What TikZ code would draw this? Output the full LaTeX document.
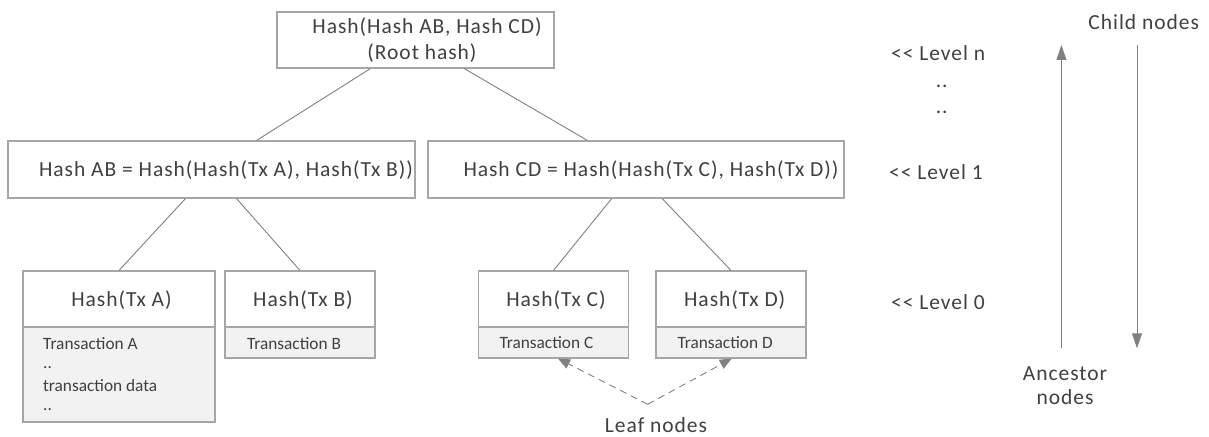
\documentclass[tikz,border=0pt]{standalone}
\usepackage{fontspec}
\setmainfont{Carlito}
\newfontfamily\bigf{Carlito}[LetterSpace=4.5]
\newfontfamily\smallf{Carlito}
\usetikzlibrary{arrows.meta,calc}
\definecolor{txt}{HTML}{404040}
\definecolor{bord}{HTML}{A6A6A6}
\definecolor{ln}{HTML}{808080}
\definecolor{gfill}{HTML}{F2F2F2}
\begin{document}
\begin{tikzpicture}[x=1pt,y=-1pt,
  box/.style={draw=bord,line width=1.1pt,fill=white,rectangle,inner sep=0pt},
  gbox/.style={box,fill=gfill},
  big/.style={text=txt,font=\bigf\fontsize{21.5}{25}\selectfont,inner sep=0pt},
  small/.style={text=txt,font=\smallf\fontsize{17.3}{20}\selectfont,inner sep=0pt,anchor=west},
  conn/.style={draw=ln,line width=0.9pt},
  dconn/.style={draw=ln,line width=0.9pt,dash pattern=on 7pt off 5pt,-{Triangle[length=12pt,width=10pt]}},
  varrow/.style={draw=ln,line width=1pt,-{Triangle[length=15pt,width=10pt]}}
]
\useasboundingbox (0,0) rectangle (1209,436);
% level n
\node[box,minimum width=277pt,minimum height=56pt] (root) at (415.5,40) {};
\node[big] (roott1) at (427,26.7) {Hash(Hash AB, Hash CD)};
\node[big] (roott2) at (422,53.3) {(Root hash)};
% level 1
\node[box,minimum width=407pt,minimum height=57pt] (ab) at (211.5,169.5) {};
\node[big] (abt) at (226,170) {Hash AB = Hash(Hash(Tx A), Hash(Tx B))};
\node[box,minimum width=416pt,minimum height=57pt] (cd) at (636,169.5) {};
\node[big] (cdt) at (651,170) {Hash CD = Hash(Hash(Tx C), Hash(Tx D))};
% level 0
\node[box,minimum width=192pt,minimum height=56pt] (ha) at (119,299) {};
\node[gbox,minimum width=192pt,minimum height=95pt] (ta) at (119,374.5) {};
\node[big] (hat) at (121.5,300) {Hash(Tx A)};
\node[small] (ta1) at (43,343.3) {Transaction A};
\node[small] (ta2) at (43,367.5) {..};
\node[small] (ta3) at (43,386) {transaction data};
\node[small] (ta4) at (43,410) {..};
\node[box,minimum width=150pt,minimum height=56pt] (hb) at (300,299) {};
\node[gbox,minimum width=150pt,minimum height=31pt] (tb) at (300,342.5) {};
\node[big] (hbt) at (303,300) {Hash(Tx B)};
\node[small] (tbt) at (246.8,343.3) {Transaction B};
\node[box,minimum width=150pt,minimum height=56pt] (hc) at (553.5,299) {};
\node[gbox,minimum width=150pt,minimum height=31pt] (tc) at (553.5,342.5) {};
\node[big] (hct) at (556,300) {Hash(Tx C)};
\node[small] (tct) at (499.3,342.7) {Transaction C};
\node[box,minimum width=150pt,minimum height=56pt] (hd) at (731,299) {};
\node[gbox,minimum width=150pt,minimum height=31pt] (td) at (731,342.5) {};
\node[big] (hdt) at (734.7,300) {Hash(Tx D)};
\node[small] (tdt) at (677.3,342.7) {Transaction D};
% connectors
\draw[conn] ([xshift=-45pt]root.south) -- ([xshift=45pt]ab.north);
\draw[conn] ([xshift=48.7pt]root.south) -- ([xshift=-48.6pt]cd.north);
\draw[conn] ([xshift=-26pt]ab.south) -- (ha.north);
\draw[conn] ([xshift=25pt]ab.south) -- (hb.north);
\draw[conn] ([xshift=-24.3pt]cd.south) -- (hc.north);
\draw[conn] ([xshift=26.1pt]cd.south) -- (hd.north);
% leaf nodes
\node[big] (leaf) at (656,425) {Leaf nodes};
\coordinate (apex) at (647.7,404.3);
\draw[dconn] (apex) -- ([xshift=4.5pt]tc.south);
\draw[dconn] (apex) -- ([xshift=0.7pt]td.south);
% level labels
\node[big,anchor=west] (lvn) at (891,53.3) {<{}< Level n};
\node[big] (dots1) at (941.7,86) {..};
\node[big] (dots2) at (941.7,112) {..};
\node[big,anchor=west] (lv1) at (889,171.7) {<{}< Level 1};
\node[big,anchor=west] (lv0) at (891,301.7) {<{}< Level 0};
% right side arrows
\node[big] (child) at (1143.7,21.7) {Child nodes};
\node[big,align=center] (anc) at (1065,386) {Ancestor\\[-1pt]nodes};
\coordinate (upbot) at (1061.4,348.3);
\coordinate (uptop) at (1061.4,45);
\coordinate (dntop) at (1137,45);
\coordinate (dnbot) at (1137,348.3);
\draw[varrow] (upbot) -- (uptop);
\draw[varrow] (dntop) -- (dnbot);
\end{tikzpicture}
\end{document}
